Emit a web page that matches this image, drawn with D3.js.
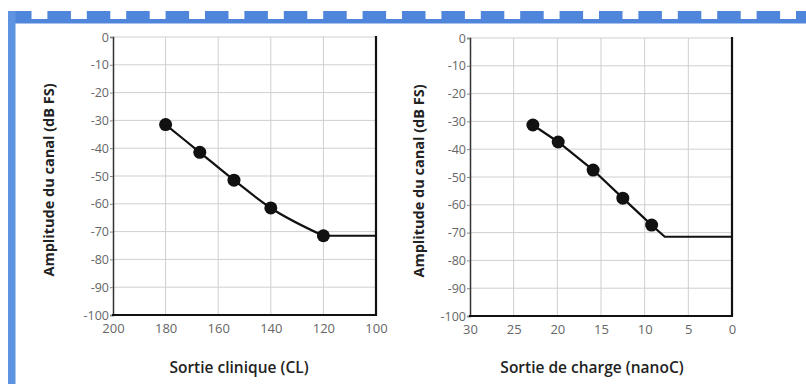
<!DOCTYPE html>
<html><head><meta charset="utf-8">
<script src="https://cdn.jsdelivr.net/npm/d3@7"></script>
<style>
html,body{margin:0;padding:0;background:#fff;}
svg{display:block;}
</style></head>
<body>
<svg id="c" width="806" height="384"></svg>
<script>
// ---- data ----
const yTicks = [0,-10,-20,-30,-40,-50,-60,-70,-80,-90,-100];
const clinicalTicks = [200,180,160,140,120,100];
const chargeTicks = [30,25,20,15,10,5,0];

const clinicalCL  = [180, 167, 154, 140, 120];
const clinicalAmp = [-31.5, -41.5, -51.5, -61.5, -71.5];
const clinicalLineCL  = [180, 167, 154, 140, 120, 100];
const clinicalLineAmp = [-31.5, -41.5, -51.5, -61.5, -71.5, -71.5];

const chargeNanoC = [22.8, 19.9, 15.9, 12.5, 9.2];
const chargeAmp   = [-31.3, -37.4, -47.5, -57.6, -67.3];
const chargeLineNanoC = [22.8, 19.9, 15.9, 12.5, 9.2, 7.7, 0];
const chargeLineAmp   = [-31.3, -37.4, -47.5, -57.6, -67.3, -71.5, -71.5];

const yTitle = "Amplitude du canal (dB FS)";
const clinicalTitle = "Sortie clinique (CL)";
const chargeTitle = "Sortie de charge (nanoC)";

const svg = d3.select("#c");

// ---- decorative blue frame ----
const deco = svg.append("g");
const blueTop = "#4f86db";
deco.append("rect").attr("x",8).attr("y",19).attr("width",798).attr("height",4.5).attr("fill",blueTop);
const blockStarts = d3.range(0, 21).map(i => 8 + i*39.4);
deco.selectAll("rect.blk").data(blockStarts).join("rect").attr("class","blk")
  .attr("x", d=>d).attr("y",11).attr("width",23.5).attr("height",9).attr("fill",blueTop);
deco.append("rect").attr("x",8).attr("y",11).attr("width",7.5).attr("height",373).attr("fill","#5e93e2");

function drawChart(opt){
  const g = svg.append("g");
  const x = d3.scaleLinear().domain(opt.xDomain).range(opt.xRange);
  const y = d3.scaleLinear().domain([0,-100]).range(opt.yRange);
  const [x0,x1] = opt.xRange, [y0,y1] = opt.yRange;

  // grid
  g.append("g").selectAll("line").data(opt.xTicks.slice(1,-1)).join("line")
    .attr("x1",d=>x(d)).attr("x2",d=>x(d)).attr("y1",y0).attr("y2",y1)
    .attr("stroke","#cfcfcf").attr("stroke-width",1);
  g.append("g").selectAll("line").data(yTicks.slice(0,-1)).join("line")
    .attr("x1",x0).attr("x2",x1).attr("y1",d=>y(d)).attr("y2",d=>y(d))
    .attr("stroke","#cfcfcf").attr("stroke-width",1);

  // y axis
  const ya = g.append("g").attr("transform",`translate(${x0},0)`)
    .call(d3.axisLeft(y).tickValues(yTicks).tickFormat(d=>String(d)).tickSize(3).tickPadding(1));
  ya.select(".domain").attr("stroke","#333").attr("stroke-width",1.5);
  ya.selectAll(".tick line").attr("stroke","#888");
  ya.selectAll("text").attr("fill","#666").style("font-family","'Open Sans', sans-serif").style("font-size","12.5px");

  // x axis
  const xa = g.append("g").attr("transform",`translate(0,${y1})`)
    .call(d3.axisBottom(x).tickValues(opt.xTicks).tickFormat(d=>String(d)).tickSize(0).tickPadding(9));
  xa.select(".domain").remove();
  xa.selectAll("text").attr("fill","#666").style("font-family","'Open Sans', sans-serif").style("font-size","13px");

  // frame lines: bottom and right thick
  g.append("line").attr("x1",x0-1).attr("x2",x1+1).attr("y1",y1).attr("y2",y1).attr("stroke","#111").attr("stroke-width",2);
  g.append("line").attr("x1",x1).attr("x2",x1).attr("y1",y0-1).attr("y2",y1+1).attr("stroke","#111").attr("stroke-width",2.2);

  // line: curved part through the first `curveCount` points, then straight segments
  const pts = opt.lineX.map((v,i)=>[v,opt.lineY[i]]);
  const curved = pts.slice(0, opt.curveCount);
  const straight = pts.slice(opt.curveCount - 1);
  const lineC = d3.line().x(d=>x(d[0])).y(d=>y(d[1])).curve(opt.curve);
  const lineS = d3.line().x(d=>x(d[0])).y(d=>y(d[1]));
  g.append("path").attr("d",lineC(curved)).attr("fill","none").attr("stroke","#111").attr("stroke-width",2.2);
  g.append("path").attr("d",lineS(straight)).attr("fill","none").attr("stroke","#111").attr("stroke-width",2.2);

  // markers
  const mk = opt.ptX.map((v,i)=>[v,opt.ptY[i]]);
  g.selectAll("circle").data(mk).join("circle")
    .attr("cx",d=>x(d[0])).attr("cy",d=>y(d[1])).attr("r",6.5).attr("fill","#111");

  // titles
  g.append("text").attr("transform",`translate(${opt.yTitleX},${(y0+y1)/2+4}) rotate(-90)`)
    .attr("text-anchor","middle").attr("fill","#222")
    .style("font-family","'Open Sans', sans-serif").style("font-weight","700").style("font-size","14.5px")
    .text(yTitle);
  g.append("text").attr("x",opt.xTitleX).attr("y",373).attr("text-anchor","middle").attr("fill","#222")
    .style("font-family","'Open Sans', sans-serif").style("font-weight","600").style("font-size","15.5px")
    .text(opt.xTitle);
}

drawChart({xDomain:[200,100], xRange:[113,376], yRange:[37,315], xTicks:clinicalTicks,
  lineX:clinicalLineCL, lineY:clinicalLineAmp, ptX:clinicalCL, ptY:clinicalAmp,
  curve:d3.curveMonotoneX, curveCount:5, yTitleX:54, xTitleX:239, xTitle:clinicalTitle});
drawChart({xDomain:[30,0], xRange:[470,732], yRange:[38,316], xTicks:chargeTicks,
  lineX:chargeLineNanoC, lineY:chargeLineAmp, ptX:chargeNanoC, ptY:chargeAmp,
  curve:d3.curveLinear, curveCount:2, yTitleX:424, xTitleX:592, xTitle:chargeTitle});
</script>
</body></html>
